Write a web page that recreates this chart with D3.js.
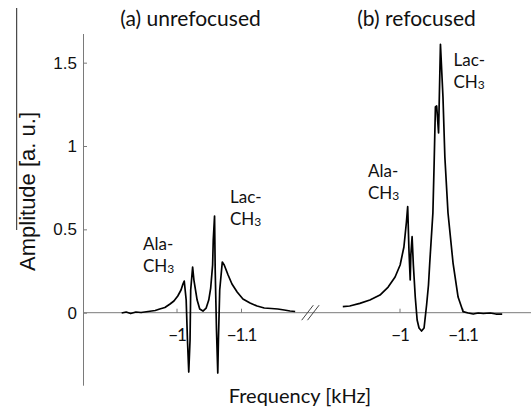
<!DOCTYPE html>
<meta charset="utf-8">
<style>
  body { margin: 0; background: #fff; }
  text { font-family: 'Lato', sans-serif; fill: #111; }
</style>
<svg width="531" height="409"></svg>
<script src="https://d3js.org/d3.v7.min.js"></script>
<script>
// panel (a) unrefocused: frequency [kHz], amplitude [a.u.]
var freqA = [-0.915, -0.922, -0.929, -0.937, -0.945, -0.956, -0.967, -0.974, -0.982, -0.990,
  -0.996, -1.002, -1.007, -1.010, -1.012, -1.015, -1.017, -1.019, -1.021, -1.022,
  -1.025, -1.027, -1.032, -1.036, -1.041, -1.046, -1.050, -1.053, -1.056, -1.057,
  -1.059, -1.060, -1.062, -1.064, -1.065, -1.067, -1.071, -1.074, -1.080, -1.086,
  -1.094, -1.103, -1.114, -1.125, -1.136, -1.147, -1.157, -1.167, -1.176, -1.184];
var ampA = [-0.002, 0.004, -0.005, 0.004, 0.001, 0.007, 0.013, 0.022, 0.031, 0.052,
  0.070, 0.100, 0.136, 0.172, 0.190, 0.076, -0.164, -0.356, -0.164, 0.136,
  0.274, 0.196, 0.076, 0.022, 0.010, 0.028, 0.076, 0.148, 0.286, 0.436,
  0.580, 0.256, -0.104, -0.362, -0.164, 0.136, 0.304, 0.286, 0.226, 0.172,
  0.124, 0.082, 0.058, 0.040, 0.028, 0.025, 0.022, 0.016, 0.010, 0.007];

// panel (b) refocused
var freqB = [-0.910, -0.921, -0.937, -0.953, -0.969, -0.982, -0.993, -1.001, -1.007, -1.011,
  -1.013, -1.015, -1.017, -1.018, -1.020, -1.022, -1.025, -1.028, -1.031, -1.035,
  -1.039, -1.043, -1.046, -1.048, -1.053, -1.055, -1.057, -1.059, -1.062, -1.065,
  -1.069, -1.072, -1.077, -1.085, -1.093, -1.101, -1.109, -1.117, -1.125, -1.133,
  -1.144, -1.153, -1.163];
var ampB = [0.036, 0.040, 0.056, 0.076, 0.106, 0.154, 0.214, 0.286, 0.394, 0.544,
  0.636, 0.376, 0.196, 0.346, 0.456, 0.286, 0.094, -0.044, -0.092, -0.110,
  -0.092, 0.046, 0.166, 0.298, 0.598, 0.898, 1.234, 1.240, 1.078, 1.610,
  1.294, 0.934, 0.598, 0.298, 0.094, 0.006, -0.002, -0.008, -0.002, -0.005,
  -0.002, -0.008, -0.008];

var yTicks = [0, 0.5, 1, 1.5];
var xTicks = [-1, -1.1];
var titles = ["(a) unrefocused", "(b) refocused"];
var peakNames = ["Ala-", "Lac-"];

var svg = d3.select("svg");

var y = d3.scaleLinear().domain([-0.435, 1.675]).range([385.2, 33.5]);
var xa = d3.scaleLinear().domain([-1, -1.1]).range([176.5, 241]);
var xb = d3.scaleLinear().domain([-1, -1.1]).range([399.5, 462.5]);
var axisX = 83, y0 = y(0);
var grey = "#7a7a7a";
var fmt = d3.format("");

// stray line at the left edge of the scan
svg.append("line")
    .attr("x1", 16.7).attr("x2", 16.7).attr("y1", 8).attr("y2", 230)
    .attr("stroke", "#222").attr("stroke-width", 1);

// y axis
var gy = svg.append("g")
    .attr("transform", "translate(" + axisX + ",0)")
    .call(d3.axisLeft(y).tickValues(yTicks).tickSizeInner(-4).tickSizeOuter(0).tickPadding(6)
      .tickFormat(fmt));
gy.select(".domain").attr("stroke", grey);
gy.selectAll(".tick line").attr("stroke", grey);
gy.selectAll(".tick text")
    .style("font-family", "'Liberation Sans', Arial, sans-serif")
    .style("font-size", "17px")
    .attr("fill", "#111");

// zero line
svg.append("line")
    .attr("x1", axisX).attr("x2", 531).attr("y1", y0).attr("y2", y0)
    .attr("stroke", grey).attr("stroke-width", 1);

// x axes
[xa, xb].forEach(function(sc) {
  var g = svg.append("g")
      .attr("transform", "translate(0," + y0 + ")")
      .call(d3.axisBottom(sc).tickValues(xTicks).tickSizeInner(-4).tickSizeOuter(0)
        .tickFormat(fmt));
  g.select(".domain").remove();
  g.selectAll(".tick line").attr("stroke", grey);
  g.selectAll(".tick text")
      .attr("y", 28).attr("dy", 0)
      .style("font-family", "Lato, sans-serif")
      .style("font-size", "17px")
      .style("letter-spacing", "-1px")
      .attr("fill", "#111");
});

// axis break marks
[0, 5.8].forEach(function(off) {
  svg.append("line")
      .attr("x1", 301.7 + off).attr("y1", y0 + 7.5)
      .attr("x2", 313.3 + off).attr("y2", y0 - 7.5)
      .attr("stroke", "#444").attr("stroke-width", 1);
});

// spectra
function drawTrace(fr, am, sc) {
  var pts = fr.map(function(f, i) { return [f, am[i]]; });
  svg.append("path")
      .datum(pts)
      .attr("fill", "none")
      .attr("stroke", "#000")
      .attr("stroke-width", 1.7)
      .attr("stroke-linejoin", "round")
      .attr("d", d3.line()
        .x(function(d) { return sc(d[0]); })
        .y(function(d) { return y(d[1]); }));
}
drawTrace(freqA, ampA, xa);
drawTrace(freqB, ampB, xb);

// titles
svg.append("text").attr("x", 190.5).attr("y", 26).attr("text-anchor", "middle")
    .style("font-size", "21px").text(titles[0]);
svg.append("text").attr("x", 416.5).attr("y", 26).attr("text-anchor", "middle")
    .style("font-size", "21px").text(titles[1]);

// peak annotations
function label(x, yb, name) {
  var t = svg.append("text").attr("x", x).attr("y", yb).style("font-size", "17px");
  t.append("tspan").attr("x", x).text(name);
  var t2 = svg.append("text").attr("x", x).attr("y", yb + 21.5).style("font-size", "17px");
  t2.append("tspan").text("CH");
  t2.append("tspan").style("font-size", "12px").attr("dy", 1).text("3");
}
label(143, 250, peakNames[0]);
label(230, 203.3, peakNames[1]);
label(368, 177, peakNames[0]);
label(453.5, 66, peakNames[1]);

// axis titles
svg.append("text")
    .attr("transform", "translate(35,191.5) rotate(-90)")
    .attr("text-anchor", "middle")
    .style("font-family", "'Liberation Sans', Arial, sans-serif")
    .style("font-size", "22px")
    .text("Amplitude [a. u.]");
svg.append("text")
    .attr("x", 300).attr("y", 403).attr("text-anchor", "middle")
    .style("font-size", "20px")
    .text("Frequency [kHz]");
</script>
